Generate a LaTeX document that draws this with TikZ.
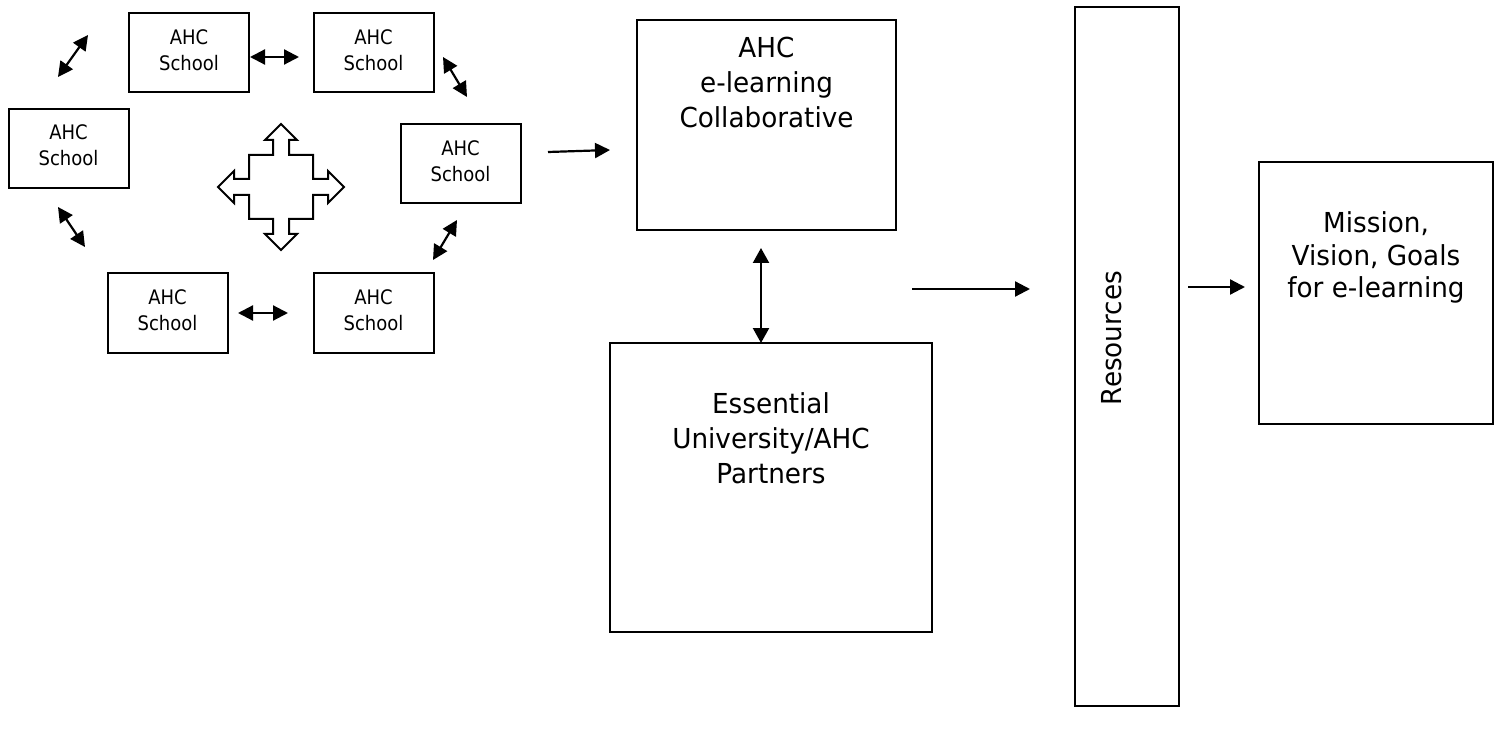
\documentclass[tikz,border=0pt]{standalone}
\usepackage{fontspec}
\setmainfont{DejaVu Sans}
\newfontfamily\smallfont[FakeStretch=0.9]{DejaVu Sans}
\newfontfamily\bigfont[FakeStretch=0.955]{DejaVu Sans}
\usetikzlibrary{arrows.meta}
\begin{document}
\begin{tikzpicture}[x=1pt,y=-1pt,
  every node/.style={inner sep=0pt, outer sep=0pt},
  school/.style={draw, line width=2pt, minimum width=120pt, minimum height=79pt,
    align=center, font=\smallfont\fontsize{20}{26}\selectfont, text depth=6pt},
  bigbox/.style={draw, line width=2pt},
  bigtext/.style={align=center, font=\bigfont\fontsize{27.5}{35}\selectfont, anchor=north},
  dbl/.style={line width=2.2pt, {Triangle[length=15pt,width=15pt]}-{Triangle[length=15pt,width=15pt]}},
  sgl/.style={line width=2.2pt, -{Triangle[length=15pt,width=15pt]}},
  vdbl/.style={line width=2.2pt, {Triangle[length=15pt,width=16pt]}-{Triangle[length=15pt,width=16pt]}},
]
\useasboundingbox (0,0) rectangle (1499,735);

% school boxes
\node[school] (b1) at (189,53) {AHC\\School};
\node[school] (b2) at (373.5,53) {AHC\\School};
\node[school] (b3) at (68.5,148.5) {AHC\\School};
\node[school] (b4) at (460.5,164) {AHC\\School};
\node[school] (b5) at (167.5,313) {AHC\\School};
\node[school] (b6) at (373.5,313) {AHC\\School};

% big boxes
\node[bigbox, minimum width=259pt, minimum height=210pt] (collab) at (766.5,125) {};
\node[bigtext] (collabt) at (766.5,37) {AHC\\e-learning\\Collaborative};
\node[bigbox, minimum width=322pt, minimum height=289pt] (ess) at (771,487.5) {};
\node[bigtext] (esst) at (771,393) {Essential\\University/AHC\\Partners};
\node[bigbox, minimum width=104pt, minimum height=699pt] (res) at (1127,356.5) {};
\node[font=\bigfont\fontsize{27.5}{35}\selectfont, rotate=90] (rest) at (1112,338) {Resources};
\node[bigbox, minimum width=234pt, minimum height=262pt] (mis) at (1376,293) {};
\node[bigtext, font=\bigfont\fontsize{27.5}{32.5}\selectfont] (mist) at (1376,212) {Mission,\\Vision, Goals\\for e-learning};

% connector end points
\coordinate (a12s) at (250,57);   \coordinate (a12e) at (299,57);
\coordinate (a56s) at (238,313);  \coordinate (a56e) at (288,313);
\coordinate (atls) at (58,77);    \coordinate (atle) at (88,35);
\coordinate (a24s) at (443,57);   \coordinate (a24e) at (467,97);
\coordinate (a35s) at (58,207);   \coordinate (a35e) at (85,247);
\coordinate (a46s) at (433,260);  \coordinate (a46e) at (457,220);
\coordinate (acs) at (548,152);   \coordinate (ace) at (610,150);
\coordinate (ces) at (761,248);
\coordinate (ars) at (912,289);   \coordinate (are) at (1030,289);
\coordinate (ams) at (1188,287);  \coordinate (ame) at (1245,287);

\draw[dbl] (a12s) -- (a12e);
\draw[dbl] (a56s) -- (a56e);
\draw[dbl] (atls) -- (atle);
\draw[dbl] (a24s) -- (a24e);
\draw[dbl] (a35s) -- (a35e);
\draw[dbl] (a46s) -- (a46e);
\draw[sgl] (acs) -- (ace);
\draw[vdbl] (ces) -- (ces |- ess.north);
\draw[sgl] (ars) -- (are);
\draw[sgl] (ams) -- (ame);

% four-way arrow
\draw[line width=2pt, line join=miter, shift={(281,187)}]
  (0,-63) -- (16,-47) -- (8,-47) -- (8,-32) -- (32,-32) -- (32,-8) -- (47,-8) -- (47,-16)
  -- (63,0) -- (47,16) -- (47,8) -- (32,8) -- (32,32) -- (8,32) -- (8,47) -- (16,47)
  -- (0,63) -- (-16,47) -- (-8,47) -- (-8,32) -- (-32,32) -- (-32,8) -- (-47,8) -- (-47,16)
  -- (-63,0) -- (-47,-16) -- (-47,-8) -- (-32,-8) -- (-32,-32) -- (-8,-32) -- (-8,-47) -- (-16,-47)
  -- cycle;
\end{tikzpicture}
\end{document}
